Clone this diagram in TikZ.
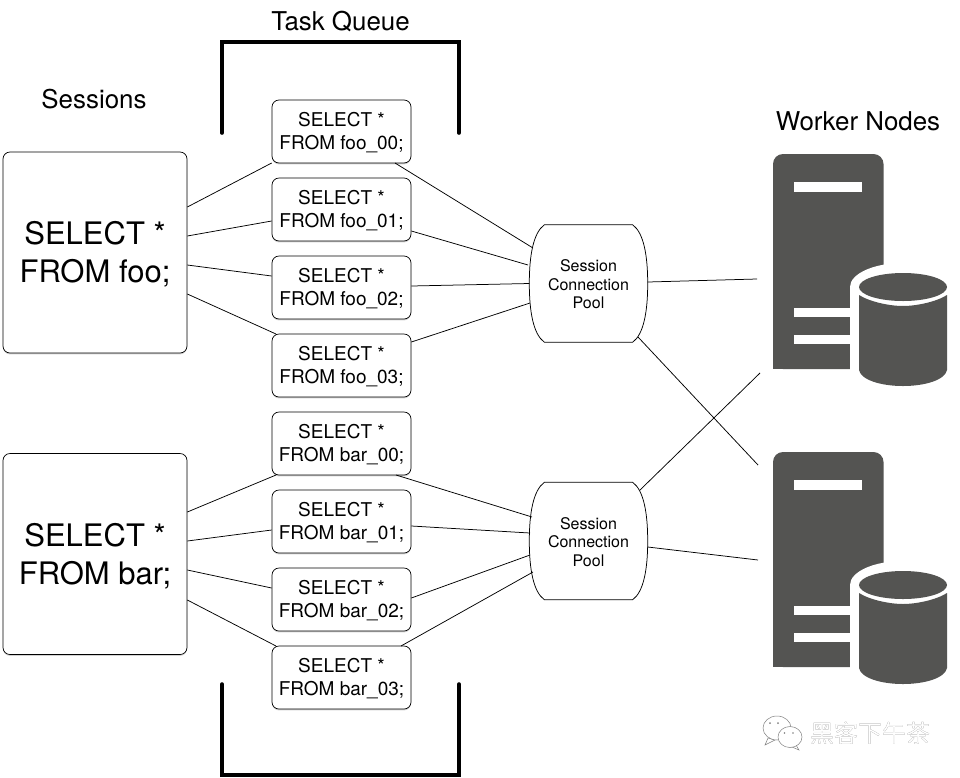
\documentclass[tikz,border=0pt]{standalone}
\usepackage{fontspec}
\setmainfont{TeX Gyre Heros}
\newfontfamily\cjkfont{Noto Sans CJK SC}
\usetikzlibrary{shadows,backgrounds,calc}
\definecolor{srv}{HTML}{545452}
\newcommand{\lowerA}{\rule{0pt}{16.2pt}}
\newcommand{\lowerB}{\rule{0pt}{27pt}}
\newcommand{\lowerC}{\rule{0pt}{13.5pt}}
\tikzset{
  box/.style={draw=black,fill=white,rounded corners=7pt,line width=0.7pt,align=center,inner sep=0pt,
    drop shadow={opacity=.35,shadow xshift=0pt,shadow yshift=-1.4pt}},
  taskbox/.style={box,minimum width=139pt,minimum height=63pt,font=\fontsize{19}{23}\selectfont},
  sessbox/.style={box,minimum width=184pt,minimum height=201pt,font=\fontsize{31}{38}\selectfont},
  poolnode/.style={minimum width=118pt,minimum height=117pt,inner sep=0pt,align=center,font=\fontsize{16}{18.5}\selectfont},
  lbl/.style={font=\fontsize{25.9}{30}\selectfont,inner sep=0pt},
  conn/.style={draw=black,line width=0.75pt},
  bracket/.style={draw=black,line width=3.6pt,line cap=round,line join=miter},
  wmark/.style={font=\cjkfont\fontsize{24}{28}\selectfont,inner sep=0pt},
  bubble/.style={draw=black!50,fill=white,line width=0.5pt},
}
\newcommand{\poolshape}[1]{%
  \draw[line width=0.75pt,fill=white] ($(#1.north west)+(15,0)$) -- ($(#1.north east)+(-15,0)$)
    .. controls ($(#1.north east)+(-4,8)$) and ($(#1.east)+(0,-28)$) .. (#1.east)
    .. controls ($(#1.east)+(0,28)$) and ($(#1.south east)+(-4,-8)$) .. ($(#1.south east)+(-15,0)$)
    -- ($(#1.south west)+(15,0)$)
    .. controls ($(#1.south west)+(4,-8)$) and ($(#1.west)+(0,28)$) .. (#1.west)
    .. controls ($(#1.west)+(0,-28)$) and ($(#1.north west)+(4,8)$) .. ($(#1.north west)+(15,0)$) -- cycle;}
\newcommand{\servericon}[1]{%
  \begin{scope}[shift={(0,#1)}]
    \fill[srv,rounded corners=10pt] (773,369) -- (773,154) -- (883.5,154) -- (883.5,369) -- cycle;
    \fill[srv] (773,360) rectangle (883.5,369);
    \fill[white] (794,182) rectangle (862,192);
    \fill[white] (794,308) rectangle (860,317);
    \fill[white] (794,335) rectangle (860,344);
    \fill[white] (903,287) ellipse [x radius=53,y radius=24];
    \fill[white] (850,287) rectangle (960,392);
    \fill[srv] (903,287) ellipse [x radius=44,y radius=14];
    \fill[srv] (859,295) .. controls (870,302) and (890,306) .. (903,306)
      .. controls (916,306) and (936,302) .. (947,295) -- (947,370)
      .. controls (945,380) and (925,386) .. (903,386)
      .. controls (881,386) and (861,380) .. (859,370) -- cycle;
  \end{scope}}
\begin{document}
\begin{tikzpicture}[x=1pt,y=-1pt]
\useasboundingbox (0,0) rectangle (960,777);
\fill[white] (0,0) rectangle (960,777);

% labels
\node[lbl] (lsess) at (94,99) {Sessions};
\node[lbl] (ltask) at (340.5,21.5) {Task Queue};
\node[lbl] (lwork) at (858,121) {Worker Nodes};

% brackets
\draw[bracket] (222,133) -- (222,42) -- (459,42) -- (459,133);
\draw[bracket] (222,684) -- (222,775) -- (459,775) -- (459,684);

% sessions
\node[sessbox] (s1) at (95,252.5) {\lowerB SELECT *\\FROM foo;};
\node[sessbox] (s2) at (95,554) {\lowerB SELECT *\\FROM bar;};

% task queue
\node[taskbox] (q0) at (341.5,131.5) {\lowerA SELECT *\\FROM foo\_00;};
\node[taskbox] (q1) at (341.5,209.5) {\lowerA SELECT *\\FROM foo\_01;};
\node[taskbox] (q2) at (341.5,287.5) {\lowerA SELECT *\\FROM foo\_02;};
\node[taskbox] (q3) at (341.5,365.5) {\lowerA SELECT *\\FROM foo\_03;};
\node[taskbox] (q4) at (341.5,443.5) {\lowerA SELECT *\\FROM bar\_00;};
\node[taskbox] (q5) at (341.5,521.5) {\lowerA SELECT *\\FROM bar\_01;};
\node[taskbox] (q6) at (341.5,599.5) {\lowerA SELECT *\\FROM bar\_02;};
\node[taskbox] (q7) at (341.5,677.5) {\lowerA SELECT *\\FROM bar\_03;};

% pools
\node[poolnode] (p1) at (588.5,283.5) {\phantom{Pool}};
\node[poolnode] (p2) at (588.5,541) {\phantom{Pool}};
\poolshape{p1}
\poolshape{p2}
\node[poolnode] at (p1) {\lowerC Session\\Connection\\Pool};
\node[poolnode] at (p2) {\lowerC Session\\Connection\\Pool};

% servers
\servericon{0}
\servericon{298}
\coordinate (w1a) at (757,279);
\coordinate (w1b) at (760,373);
\coordinate (w2a) at (758,465);
\coordinate (w2b) at (758,560);

% connectors
\begin{scope}[every path/.style={conn}]
\draw (s1.east |- 0,207) -- (275,163 -| q0.west);
\draw (s1.east |- 0,236) -- (q1.west |- 0,221);
\draw (s1.east |- 0,265) -- (q2.west |- 0,276);
\draw (s1.east |- 0,294) -- (276,334);
\draw (s2.east |- 0,512) -- (276,475);
\draw (s2.east |- 0,541) -- (q5.west |- 0,530);
\draw (s2.east |- 0,570) -- (q6.west |- 0,588);
\draw (s2.east |- 0,600) -- (276,646);
\draw (395,163) -- (533,248);
\draw (q1.east |- 0,231) -- (528,265);
\draw (q2.east |- 0,286) -- (p1.west);
\draw (q3.east |- 0,342) -- (530,303);
\draw (396,475) -- (532,517);
\draw (q5.east |- 0,526) -- (530,533);
\draw (q6.east |- 0,598) -- (530,555);
\draw (401,646) -- (533,572);
\draw (p1.east |- 0,282) -- (w1a);
\draw (638,337) -- (w2a);
\draw (640,490) -- (w1b);
\draw (p2.east |- 0,547) -- (w2b);
\end{scope}

% watermark
\draw[bubble] (768,738) -- (765,745) -- (775,740) -- cycle;
\draw[bubble] (777,728) ellipse [x radius=14,y radius=12];
\draw[bubble] (796,745) -- (799,750) -- (792,747) -- cycle;
\draw[bubble] (790,737) ellipse [x radius=12,y radius=10.5];
\fill[black!50] (770,723) circle (1) (778,723) circle (1);
\fill[black!50] (784.5,733) circle (0.9) (793,733) circle (0.9);
\node[wmark,text=black!60] (wm0) at (870.4,733.4) {黑客下午茶};
\node[wmark,text=white] (wm1) at (870,733) {黑客下午茶};
\end{tikzpicture}
\end{document}
